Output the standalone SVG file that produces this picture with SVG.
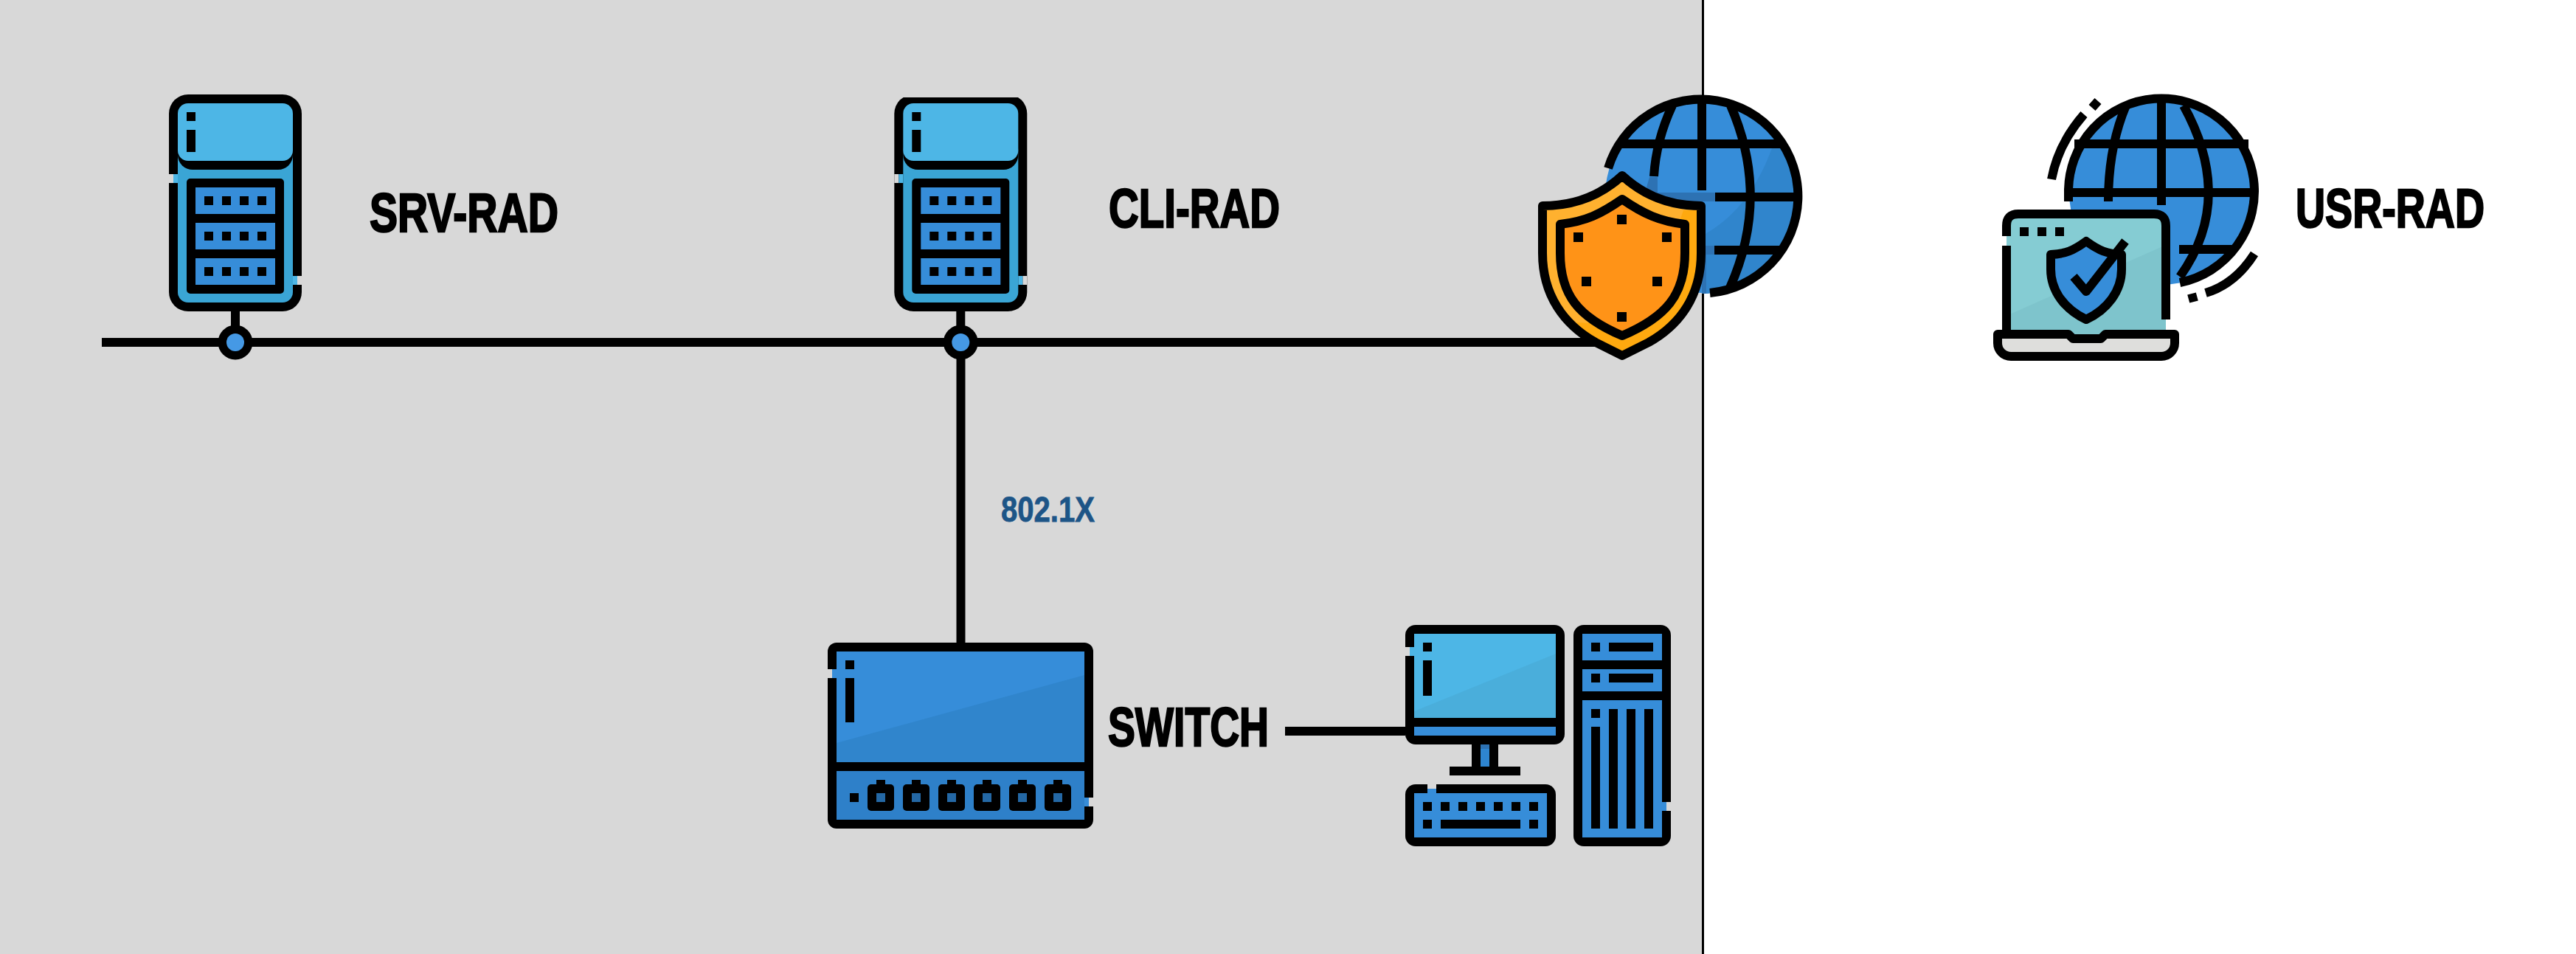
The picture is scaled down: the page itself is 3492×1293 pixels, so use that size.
<svg xmlns="http://www.w3.org/2000/svg" width="3492" height="1293" viewBox="0 0 3492 1293">
<style>
.k{fill:#000}
.b{fill:#368dd9}
.d{fill:#3085cc}
.l{fill:#4db6e6}
.g{fill:#d8d8d8}
.s{fill:none;stroke:#000;stroke-width:12}
.sj{fill:none;stroke:#000;stroke-width:12;stroke-linejoin:round}
.t{font-family:"Liberation Sans",Arial,sans-serif;font-weight:700;font-size:74px;fill:#000;stroke:#000;stroke-width:2.4}
.n{font-family:"Liberation Sans",Arial,sans-serif;font-weight:700;font-size:48px;fill:#1d5587;stroke:#1d5587;stroke-width:.8}
</style>
<defs>
<g id="server">
<rect class="k" x="229" y="128" width="180" height="294" rx="26"/>
<rect x="241" y="190" width="156" height="220" rx="14" fill="#3aa5d5"/>
<rect class="k" x="241" y="170" width="156" height="60" rx="20"/>
<rect class="l" x="241" y="140" width="156" height="78" rx="14"/>
<rect class="g" x="229" y="236" width="6" height="12"/>
<rect class="l" x="235" y="236" width="6" height="12"/>
<rect class="g" x="403" y="374" width="6" height="12"/>
<rect class="l" x="397" y="374" width="6" height="12"/>
<rect class="k" x="253" y="152" width="12" height="12"/>
<rect class="k" x="253" y="176" width="12" height="30"/>
<rect class="k" x="253" y="242" width="132" height="156" rx="5"/>
<rect class="b" x="265" y="254" width="108" height="36"/>
<rect class="b" x="265" y="302" width="108" height="36"/>
<rect class="b" x="265" y="350" width="108" height="36"/>
<path class="k" d="M277 266h12v12h-12zM301 266h12v12h-12zM325 266h12v12h-12zM349 266h12v12h-12zM277 314h12v12h-12zM301 314h12v12h-12zM325 314h12v12h-12zM349 314h12v12h-12zM277 362h12v12h-12zM301 362h12v12h-12zM325 362h12v12h-12zM349 362h12v12h-12z"/>
<rect class="k" x="313" y="422" width="12" height="24"/>
<circle class="k" cx="319" cy="464" r="23.500"/>
<circle cx="319" cy="464" r="12" fill="#4599e5"/>
</g>
</defs>

<rect id="panel" class="g" x="0" y="0" width="2307" height="1293"/>
<rect id="divider" x="2307" y="0" width="3" height="1293" fill="#000"/>

<g id="connectors">
<path class="s" d="M138 464H2170"/>
<path class="s" d="M1302.500 464V871"/>
<path class="s" d="M1742 991H1905"/>
</g>

<g id="srv-rad">
<use href="#server"/>
<text class="t" x="501" y="314" textLength="256" lengthAdjust="spacingAndGlyphs">SRV-RAD</text>
</g>

<g id="cli-rad">
<use href="#server" x="983.300"/>
<rect class="g" x="1205" y="124" width="195" height="8"/>
<text class="t" x="1503" y="308" textLength="232" lengthAdjust="spacingAndGlyphs">CLI-RAD</text>
</g>

<g id="firewall">
<circle class="b" cx="2307" cy="266" r="131"/>
<path class="d" d="M2415 190L2402 201C2380 260 2350 295 2312 317L2312 398L2307 398A132 132 0 0 0 2415 190Z"/>
<path fill="#2d72b3" d="M2236 240H2247V261H2325V273H2230V261ZM2312 333H2324V345H2313V398H2307V345Z"/>
<path class="s" d="M2180 228A131.500 131.500 0 1 1 2318 397"/>
<path class="s" d="M2198 195H2417M2325 267H2438M2324 339H2416M2307 130V258"/>
<path class="s" d="M2267 143Q2245 190 2242 239M2346 143Q2400 267 2345 390"/>
<path style="fill:#ffb12f" d="M2199 238C2170 265 2135 279 2091 279L2091 343C2091 400 2120 440 2163 464L2199 482L2235 464C2278 440 2306 400 2306 343L2306 279C2263 279 2228 265 2199 238Z"/>
<path style="fill:#ffa90f" d="M2282 285L2306 285L2306 343C2306 400 2278 440 2235 464L2199 482L2163 464C2155 458 2145 448 2137 437L2199 440L2270 320Z"/>
<path class="sj" d="M2199 238C2170 265 2135 279 2091 279L2091 343C2091 400 2120 440 2163 464L2199 482L2235 464C2278 440 2306 400 2306 343L2306 279C2263 279 2228 265 2199 238Z"/>
<path class="sj" style="fill:#ff9317" d="M2199 270C2170 290 2150 300 2115 304L2115 343C2115 400 2140 430 2199 455C2258 430 2284 400 2284 343L2284 304C2250 300 2228 290 2199 270Z"/>
<path class="k" d="M2192 291h13v13h-13zM2133 315h13v13h-13zM2253 315h13v13h-13zM2144 375h13v13h-13zM2240 375h13v13h-13zM2192 423h13v13h-13z"/>
</g>

<g id="usr-rad">
<circle class="b" cx="2930" cy="261" r="125"/>
<path class="s" d="M2804 273V261A126 126 0 1 1 2955 383"/>
<path class="s" d="M2812 195H3048M2800 261H3056M2954 338H3028M2930 135V278"/>
<path class="s" d="M2882 143Q2858 200 2858 273M2960 143Q3030 270 2955 375"/>
<path class="s" d="M2825 155Q2790 195 2781 243M3056 344Q3030 385 2990 397M2836 146L2844 137M2971 398L2974 409"/>
<path d="M2720 296H2936V456H2720Z" fill="#85ccd3"/>
<path d="M2720 428L2936 332V456H2720Z" fill="#7ec4cc"/>
<path class="s" d="M2720 320V306Q2720 290 2736 290H2920Q2936 290 2936 306V433M2720 333V447"/>
<path class="k" d="M2738 308h12v12h-12zM2762 308h12v12h-12zM2786 308h12v12h-12z"/>
<path class="sj" style="fill:#368dd9" d="M2828 327C2810 340 2800 344 2780 345L2780 365C2780 395 2800 420 2828 433C2856 420 2876 395 2876 365L2876 345C2856 344 2846 340 2828 327Z"/>
<path class="sj" d="M2811 375L2828 395L2881 327"/>
<path class="sj" style="fill:#dededc" d="M2708 453H2804L2810 459H2848L2854 453H2948V465C2948 475 2940 483 2930 483H2726C2716 483 2708 475 2708 465Z"/>
<text class="t" x="3112" y="308" textLength="256" lengthAdjust="spacingAndGlyphs">USR-RAD</text>
</g>

<text class="n" x="1357" y="707" textLength="127" lengthAdjust="spacingAndGlyphs">802.1X</text>

<g id="switch">
<rect class="k" x="1122" y="871" width="360" height="252" rx="12"/>
<rect class="b" x="1134" y="883" width="336" height="150"/>
<path class="d" d="M1134 1007L1470 915V1033H1134Z"/>
<rect x="1134" y="1045" width="336" height="66" fill="#2e80c9"/>
<rect class="g" x="1122" y="907" width="6" height="12"/>
<rect class="b" x="1128" y="907" width="6" height="12"/>
<rect class="g" x="1476" y="1081" width="6" height="12"/>
<rect class="b" x="1470" y="1081" width="6" height="12"/>
<path class="k" d="M1146 895h12v12h-12zM1146 919h12v60h-12zM1152 1075h12v12h-12z"/>
<g id="ports">
<g id="port"><rect class="k" x="1176" y="1063" width="36" height="36" rx="5"/><rect class="k" x="1188" y="1057" width="12" height="8"/><rect x="1188" y="1075" width="12" height="12" fill="#2468a5"/></g>
<use href="#port" x="48"/><use href="#port" x="96"/><use href="#port" x="144"/><use href="#port" x="192"/><use href="#port" x="240"/>
</g>
<text class="t" x="1502" y="1011" textLength="218" lengthAdjust="spacingAndGlyphs">SWITCH</text>
</g>

<g id="desktop">
<rect class="k" x="1905" y="847" width="216" height="162" rx="14"/>
<rect class="l" x="1917" y="859" width="192" height="114"/>
<path d="M1917 964L2109 886V973H1917Z" fill="#4aaedb"/>
<rect class="b" x="1917" y="985" width="192" height="12"/>
<rect class="g" x="1905" y="877" width="6" height="12"/>
<rect class="l" x="1911" y="877" width="6" height="12"/>
<path class="k" d="M1929 871h12v12h-12zM1929 895h12v48h-12zM1995 1009h36v30h-36zM1965 1039h96v12h-96z"/>
<rect x="2007" y="1009" width="12" height="30" fill="#2e85d0"/>
<rect x="2007" y="1009" width="12" height="6" fill="#2d72b3"/>
<rect class="k" x="1905" y="1063" width="204" height="84" rx="14"/>
<rect class="b" x="1917" y="1075" width="180" height="60"/>
<rect class="g" x="1935" y="1063" width="12" height="6"/>
<rect class="b" x="1935" y="1069" width="12" height="6"/>
<path class="k" d="M1929 1087h12v12h-12zM1953 1087h12v12h-12zM1977 1087h12v12h-12zM2001 1087h12v12h-12zM2025 1087h12v12h-12zM2049 1087h12v12h-12zM2073 1087h12v12h-12zM1929 1111h12v12h-12zM1953 1111h108v12h-108zM2073 1111h12v12h-12z"/>
<rect class="k" x="2133" y="847" width="132" height="300" rx="14"/>
<rect class="b" x="2145" y="859" width="108" height="36"/>
<rect class="b" x="2145" y="907" width="108" height="30"/>
<rect class="b" x="2145" y="949" width="108" height="186"/>
<rect class="g" x="2259" y="1087" width="6" height="12"/>
<rect class="b" x="2253" y="1087" width="6" height="12"/>
<path class="k" d="M2157 871h12v12h-12zM2181 871h60v12h-60zM2157 913h12v12h-12zM2181 913h60v12h-60zM2157 961h12v12h-12zM2157 985h12v138h-12zM2181 961h12v162h-12zM2205 961h12v162h-12zM2229 961h12v162h-12z"/>
</g>
</svg>
